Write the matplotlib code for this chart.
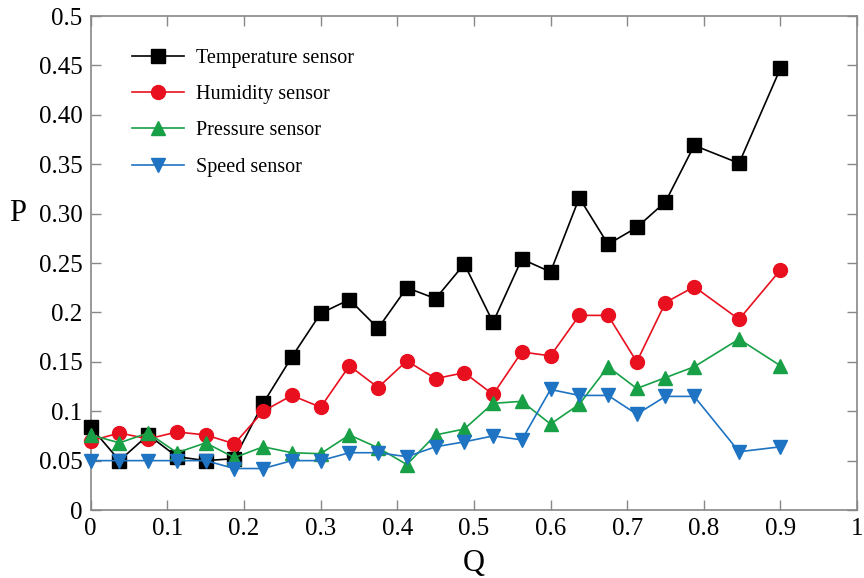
import numpy as np
import matplotlib
matplotlib.use("Agg")
from matplotlib import pyplot as plt

plt.rcParams["font.family"] = ["Liberation Serif", "DejaVu Serif"]

q = [0, 0.0375, 0.075, 0.1125, 0.15, 0.1875, 0.225, 0.2625, 0.3, 0.3375,
     0.375, 0.4125, 0.45, 0.4875, 0.525, 0.5625, 0.6, 0.6375, 0.675, 0.7125,
     0.75, 0.7875, 0.846, 0.9]

temperature = [0.084, 0.050, 0.076, 0.054, 0.050, 0.052, 0.108, 0.155, 0.199, 0.213,
               0.184, 0.225, 0.214, 0.249, 0.190, 0.254, 0.241, 0.316, 0.269, 0.286,
               0.312, 0.369, 0.351, 0.447]
humidity = [0.070, 0.078, 0.072, 0.079, 0.076, 0.067, 0.100, 0.116, 0.104, 0.146,
            0.124, 0.151, 0.133, 0.139, 0.117, 0.160, 0.156, 0.197, 0.197, 0.150,
            0.210, 0.226, 0.193, 0.243]
pressure = [0.076, 0.068, 0.078, 0.058, 0.068, 0.053, 0.064, 0.058, 0.057, 0.076,
            0.063, 0.046, 0.076, 0.082, 0.108, 0.110, 0.087, 0.107, 0.145, 0.123,
            0.134, 0.145, 0.173, 0.146]
speed = [0.050, 0.050, 0.050, 0.050, 0.050, 0.042, 0.042, 0.050, 0.050, 0.058,
         0.058, 0.054, 0.064, 0.069, 0.075, 0.071, 0.122, 0.116, 0.116, 0.097,
         0.115, 0.115, 0.059, 0.064]

series = [
    ("Temperature sensor", temperature, "black", "s"),
    ("Humidity sensor", humidity, "#e8101e", "o"),
    ("Pressure sensor", pressure, "#17a046", "^"),
    ("Speed sensor", speed, "#1e73c2", "v"),
]

xticks = [0, 0.1, 0.2, 0.3, 0.4, 0.5, 0.6, 0.7, 0.8, 0.9, 1]
xticklabels = ["0", "0.1", "0.2", "0.3", "0.4", "0.5", "0.6", "0.7", "0.8", "0.9", "1"]
yticks = [0, 0.05, 0.1, 0.15, 0.2, 0.25, 0.3, 0.35, 0.4, 0.45, 0.5]
yticklabels = ["0", "0.05", "0.1", "0.15", "0.2", "0.25", "0.30", "0.35", "0.40", "0.45", "0.5"]

fig = plt.figure(figsize=(8.64, 5.78), dpi=100)
ax = fig.add_axes([0.105, 0.1176, 0.887, 0.8547])

for label, values, color, marker in series:
    ax.plot(q, values, marker=marker, color=color, label=label,
            linewidth=1.2, markersize=10, clip_on=False, zorder=3)

ax.set_xlim(0, 1)
ax.set_ylim(0, 0.5)
ax.set_xticks(xticks)
ax.set_xticklabels(xticklabels)
ax.set_yticks(yticks)
ax.set_yticklabels(yticklabels)
ax.tick_params(direction="in", length=7, width=1, color="#888888",
               top=True, right=True, labelsize=18, pad=6)
for spine in ax.spines.values():
    spine.set_color("#888888")
    spine.set_linewidth(1.2)

ax.set_xlabel("Q", fontsize=22, labelpad=6)
ax.set_ylabel("P", fontsize=22, rotation=0, va="center")
ax.yaxis.set_label_coords(-0.095, 0.60)

ax.legend(loc="upper left", bbox_to_anchor=(0.03, 0.97), frameon=False,
          fontsize=14.5, handlelength=2.6, labelspacing=0.85, handletextpad=0.6)

fig.savefig("out.png", dpi=100)
